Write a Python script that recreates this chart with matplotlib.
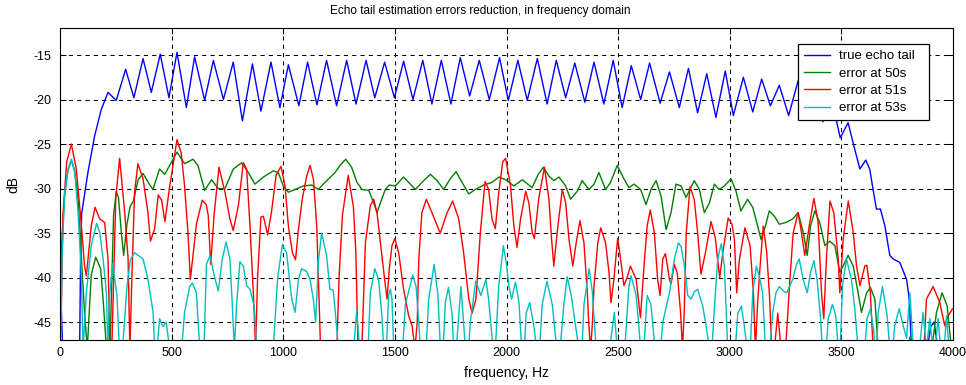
import matplotlib
matplotlib.use("Agg")
import matplotlib.pyplot as plt

plt.rcParams['font.family'] = ['Liberation Sans', 'DejaVu Sans']
plt.rcParams['lines.scale_dashes'] = False

# ---------------- data ----------------
title = "Echo tail estimation errors reduction, in frequency domain"
xlabel = "frequency, Hz"
ylabel = "dB"
labels = ["true echo tail", "error at 50s", "error at 51s", "error at 53s"]
xticks = [0, 500, 1000, 1500, 2000, 2500, 3000, 3500, 4000]
yticks = [-45, -40, -35, -30, -25, -20, -15]

blue_f = [0, 4, 12, 88, 92, 97, 125, 155, 185, 215, 252, 294, 331, 372, 409, 449, 488, 524, 566, 603,
          648, 687, 732, 776, 817, 862, 900, 945, 985, 1023, 1070, 1109, 1151, 1194, 1239, 1284, 1326,
          1371, 1410, 1454, 1498, 1539, 1581, 1625, 1666, 1708, 1751, 1793, 1835, 1878, 1923, 1969,
          2008, 2051, 2093, 2138, 2182, 2223, 2265, 2306, 2351, 2392, 2436, 2478, 2518, 2559, 2601,
          2641, 2688, 2730, 2774, 2815, 2856, 2897, 2938, 2980, 3016, 3061, 3103, 3143, 3182, 3222,
          3264, 3306, 3350, 3385, 3417, 3452, 3495, 3530, 3560, 3583, 3609, 3627, 3642, 3657, 3675,
          3695, 3717, 3732, 3762, 3792, 3804, 3814, 3885, 3900, 3915, 3930, 3950, 4000]
blue_db = [-38.5, -42, -48, -48, -38, -32.8, -28.2, -24.1, -21.1, -19.2, -20.1, -16.6, -19.8, -15.4,
           -19.2, -14.9, -19.8, -14.7, -20.9, -15.2, -20.1, -15.6, -20.0, -15.8, -22.4, -16.0, -21.3,
           -15.8, -20.9, -16.1, -20.7, -15.8, -20.6, -15.6, -20.7, -15.6, -20.5, -15.6, -19.8, -15.8,
           -19.8, -15.7, -20.0, -15.6, -20.5, -15.6, -20.5, -15.3, -19.6, -15.6, -20.0, -15.3, -20.1,
           -15.6, -20.1, -15.4, -20.5, -15.6, -19.8, -15.9, -20.3, -15.8, -20.5, -15.6, -20.9, -16.2,
           -20.0, -15.9, -20.4, -16.9, -20.9, -16.5, -21.5, -17.1, -22.0, -16.8, -21.8, -17.5, -21.4,
           -17.7, -20.7, -18.4, -21.8, -17.9, -21.5, -18.5, -22.5, -19.5, -24.3, -22.6, -25.6, -27.8,
           -26.8, -27.8, -30.1, -32.3, -32.3, -34.2, -37.5, -37.9, -38.3, -40.2, -42.4, -48, -48,
           -45.5, -45.0, -47.5, -48, -48]

green_f = [0, 8, 20, 35, 51, 66, 81, 96, 110, 122, 140, 160, 182, 193, 208, 224, 240, 252, 262, 275,
           285, 300, 314, 329, 350, 372, 395, 416, 446, 469, 491, 524, 558, 596, 618, 648, 679, 709,
           739, 776, 814, 844, 873, 911, 956, 978, 1000, 1023, 1053, 1090, 1127, 1157, 1187, 1232,
           1254, 1280, 1306, 1330, 1353, 1383, 1405, 1420, 1435, 1457, 1475, 1502, 1539, 1562, 1592,
           1621, 1659, 1689, 1719, 1748, 1774, 1801, 1831, 1860, 1898, 1935, 1966, 1996, 2033, 2071,
           2115, 2142, 2165, 2190, 2212, 2235, 2265, 2287, 2317, 2339, 2369, 2392, 2414, 2444, 2466,
           2496, 2526, 2548, 2571, 2601, 2625, 2647, 2670, 2692, 2715, 2737, 2759, 2782, 2804, 2841,
           2864, 2886, 2909, 2931, 2953, 2976, 3006, 3028, 3050, 3080, 3103, 3125, 3140, 3160, 3177,
           3200, 3222, 3252, 3282, 3306, 3329, 3347, 3362, 3381, 3403, 3426, 3448, 3471, 3493, 3508,
           3530, 3553, 3575, 3590, 3613, 3630, 3650, 3665, 3800, 3806, 3815, 3905, 3926, 3951, 3974,
           3993, 4000]
green_db = [-45, -36, -31, -28, -26.8, -28, -31.2, -37.9, -44, -48, -39.7, -37.7, -39, -42.4, -48, -48,
            -33, -30.3, -31, -35, -37.5, -34, -32, -31.4, -29, -28.3, -29.3, -30.1, -27.8, -28.4,
            -27.4, -25.9, -27.2, -26.7, -27.4, -30.2, -29, -30, -30, -27.8, -27.1, -28.2, -29.5, -28.7,
            -28, -28.2, -29.7, -30.4, -30.1, -29.7, -29.6, -30.1, -29.3, -28.2, -27.4, -26.7, -27.6,
            -29.3, -30.1, -30.2, -31.6, -32.7, -31.6, -30.1, -29.6, -29.7, -28.7, -29.3, -30.1, -29.3,
            -28.4, -29.1, -30.1, -28.9, -28.1, -29.3, -30.6, -30.1, -29.6, -29.3, -28.7, -29, -29.7,
            -29, -29.9, -28.4, -27.6, -28.6, -29.1, -28.7, -29.7, -31.2, -30.3, -29.1, -30.1, -29.5,
            -28.2, -30.1, -29.3, -27.4, -28.9, -29.9, -29.5, -30.1, -31.8, -30.1, -29.1, -30.8, -34.6,
            -32.7, -29.5, -29.7, -31, -29.1, -30.1, -32.7, -31.6, -29.5, -30.1, -29.7, -28.9, -30.3,
            -32.5, -31.2, -32.1, -34.2, -35.7, -34.2, -32.5, -33.1, -34, -33.8, -33.4, -32.7, -34.9,
            -37.5, -34.2, -32.5, -33.8, -36.4, -35.9, -36.4, -39.4, -38.7, -37.5, -38.7, -41.7, -43.9,
            -41.7, -41.1, -42.4, -48, -48, -46.7, -48, -48, -43.9, -41.7, -43.2, -48, -48]

red_f = [0, 5, 13, 30, 51, 73, 96, 110, 118, 140, 157, 178, 200, 215, 224, 232, 250, 267, 290, 305,
         313, 322, 334, 349, 372, 394, 405, 424, 440, 455, 470, 490, 524, 543, 558, 573, 584, 611, 637,
         655, 664, 675, 690, 712, 739, 761, 776, 799, 821, 836, 851, 866, 876, 885, 900, 911, 930, 948,
         968, 990, 1008, 1023, 1041, 1055, 1068, 1085, 1105, 1120, 1135, 1150, 1160, 1167, 1240, 1250,
         1265, 1291, 1314, 1325, 1335, 1352, 1368, 1390, 1405, 1420, 1435, 1454, 1465, 1475, 1487,
         1500, 1517, 1539, 1562, 1577, 1590, 1600, 1607, 1621, 1641, 1666, 1703, 1734, 1759, 1786,
         1808, 1831, 1846, 1863, 1883, 1904, 1920, 1935, 1950, 1965, 1983, 1996, 2018, 2033, 2047,
         2063, 2086, 2100, 2115, 2125, 2145, 2170, 2190, 2202, 2212, 2227, 2250, 2265, 2280, 2297,
         2312, 2329, 2347, 2362, 2369, 2377, 2385, 2392, 2409, 2422, 2444, 2459, 2468, 2481, 2498,
         2511, 2526, 2540, 2555, 2581, 2600, 2616, 2630, 2644, 2662, 2677, 2688, 2700, 2712, 2730,
         2737, 2752, 2765, 2780, 2788, 2796, 2805, 2822, 2841, 2856, 2871, 2891, 2916, 2935, 2955,
         2970, 2993, 3010, 3021, 3031, 3043, 3068, 3091, 3106, 3115, 3125, 3136, 3150, 3165, 3178,
         3188, 3200, 3215, 3230, 3250, 3270, 3284, 3306, 3321, 3336, 3356, 3377, 3396, 3411, 3421,
         3433, 3449, 3466, 3486, 3493, 3508, 3531, 3553, 3568, 3583, 3605, 3614, 3630, 3642, 3870,
         3881, 3911, 3941, 3963, 3978, 3998]
red_db = [-47, -45, -33, -27, -25, -27.8, -34.2, -38.7, -39.8, -34.2, -32.1, -33.4, -33.8, -37.9, -48,
          -48, -31, -26.6, -32.7, -37.9, -48, -40, -30.4, -27.2, -28.9, -32.7, -35.9, -34.5, -30.7,
          -31.3, -33.7, -30, -24.5, -26, -29.7, -34.9, -40.2, -34, -31.3, -31.8, -33, -38.5, -33,
          -27.6, -30.4, -33.4, -34.7, -31.9, -27.1, -27.8, -34.2, -41.7, -48, -40, -33.2, -33.1,
          -35.2, -32.5, -28.5, -27.5, -29.7, -34.2, -37.2, -38, -34.6, -31.2, -28.6, -27.4, -28.9,
          -34.2, -42, -48, -48, -40, -33, -28.5, -32, -37, -48, -48, -36.1, -31.9, -31.2, -32.7, -36,
          -40.2, -42.4, -39, -36.4, -35.6, -37.2, -41.3, -44.3, -45.4, -48, -45, -38, -32.7, -31.2,
          -32.7, -35, -32.7, -31.4, -33.4, -37.2, -42.4, -44, -42.4, -34.9, -29.2, -30.1, -33.4,
          -34.5, -30.5, -27, -26.6, -29.7, -34.2, -36.6, -33.4, -30.3, -31.6, -34.9, -35.6, -31,
          -27.6, -31.2, -35.7, -38.7, -34.9, -30.1, -31.6, -35.7, -38.7, -36.1, -33.6, -36.1, -41.7,
          -45.4, -48, -45, -40.9, -36.1, -34.4, -36.1, -39.4, -42.8, -40.2, -35.6, -37.9, -40.9, -40,
          -38.7, -40.2, -44.5, -38.7, -34.2, -32.4, -34.9, -40.2, -42, -37.9, -37.3, -40.2, -40.7,
          -38.5, -39.5, -44, -48, -44, -35, -29.8, -31.2, -34.9, -39.6, -37.2, -33.7, -35.5, -40,
          -37, -33.3, -34, -35.7, -41.7, -38, -34.4, -36.4, -41.7, -48, -42.8, -38.7, -34.2, -37,
          -42, -48, -48, -44, -48, -48, -40, -35, -32.7, -34.9, -37.5, -34.2, -31.1, -33.8, -41.7,
          -44.6, -37.9, -31.4, -32.7, -37.9, -41.7, -35.7, -31.4, -34.9, -38.7, -40.9, -38.7, -38.6,
          -41.7, -48, -48, -42.4, -41, -42.8, -45.4, -44.3, -43.5]

cyan_f = [0, 5, 9, 21, 36, 51, 66, 81, 96, 103, 118, 140, 164, 178, 193, 208, 214, 222, 236, 255, 266,
          280, 300, 315, 334, 372, 394, 417, 424, 435, 446, 461, 476, 491, 545, 558, 581, 593, 611, 626,
          645, 656, 672, 691, 709, 727, 744, 761, 772, 781, 791, 806, 821, 836, 851, 870, 881, 955, 975,
          996, 1015, 1038, 1053, 1068, 1082, 1105, 1120, 1135, 1145, 1158, 1172, 1194, 1209, 1224, 1244,
          1252, 1315, 1329, 1342, 1380, 1390, 1410, 1427, 1442, 1450, 1462, 1472, 1480, 1487, 1495,
          1535, 1547, 1580, 1595, 1607, 1614, 1640, 1651, 1676, 1693, 1704, 1716, 1726, 1740, 1756,
          1763, 1775, 1796, 1816, 1830, 1838, 1862, 1885, 1908, 1920, 1940, 1950, 1965, 1986, 2000,
          2011, 2023, 2040, 2056, 2068, 2080, 2088, 2104, 2123, 2135, 2148, 2160, 2181, 2205, 2225,
          2240, 2257, 2272, 2290, 2324, 2338, 2347, 2370, 2384, 2402, 2462, 2483, 2496, 2530, 2548,
          2558, 2581, 2601, 2615, 2630, 2647, 2665, 2690, 2700, 2730, 2752, 2770, 2782, 2797, 2812,
          2827, 2841, 2856, 2879, 2894, 2909, 2920, 2931, 2946, 2962, 2976, 2991, 3025, 3036, 3052,
          3065, 3078, 3092, 3103, 3119, 3132, 3147, 3160, 3180, 3192, 3207, 3222, 3240, 3255, 3282,
          3299, 3311, 3329, 3347, 3362, 3377, 3391, 3406, 3415, 3432, 3441, 3460, 3475, 3486, 3495,
          3505, 3523, 3545, 3560, 3575, 3605, 3615, 3630, 3645, 3650, 3658, 3665, 3684, 3705, 3717,
          3730, 3739, 3759, 3777, 3792, 3807, 3822, 3850, 3866, 3881, 3896, 3910, 3920, 3933, 3945,
          3960, 3971, 3982, 4000]
cyan_db = [-48, -45, -38, -30.4, -27.8, -26.7, -28.2, -32.7, -39.8, -48, -41.7, -36.4, -33.9, -34.9,
           -37.9, -41.7, -48, -42, -38.4, -42, -48, -48, -41, -38, -37.2, -37.9, -40.2, -43.9, -48,
           -48, -44.6, -45.5, -45, -48, -48, -43.9, -41, -40.6, -41.7, -48, -48, -38.5, -37.5, -39.8,
           -41.5, -37.9, -36, -37.9, -43.2, -48, -43, -38.2, -38.7, -40.9, -41.3, -43.2, -48, -48,
           -40, -36.3, -37.2, -42.4, -43.9, -40.2, -39, -39.3, -40.2, -42.5, -45, -38, -35, -37.5,
           -41.3, -41.4, -46.9, -48, -48, -43.7, -48, -48, -41.7, -39, -40.2, -44.3, -48, -48, -42,
           -41.3, -42.4, -48, -48, -43, -39.7, -41, -45, -48, -48, -42.5, -38.5, -42, -48, -48, -42.8,
           -41.1, -44, -48, -48, -41, -48, -48, -45, -40.4, -42, -40.2, -42.5, -48, -48, -41, -36.4,
           -38.5, -41, -42.4, -40.5, -42.8, -48, -48, -44, -42.8, -45.5, -48, -48, -43, -40.4, -43,
           -48, -48, -43, -39.9, -42, -48, -48, -43, -39, -41.5, -48, -48, -43.9, -48, -48, -41,
           -39.8, -42, -48, -48, -42, -43, -48, -48, -45, -41.7, -37.9, -36.1, -36.5, -38.7, -42,
           -42.4, -41.6, -41.3, -43.2, -45.4, -48, -48, -43.5, -37.9, -36.2, -38.7, -48, -48, -44,
           -43.2, -45.4, -48, -48, -41.7, -38.7, -39.8, -41.7, -48, -48, -44, -41.7, -41, -41.5,
           -41.7, -40.2, -38.5, -37.9, -40.2, -41.7, -39.4, -38.1, -40.2, -44.3, -48, -48, -44.6,
           -43, -44.3, -48, -48, -40.8, -37.9, -40.2, -43.5, -48, -48, -44.6, -43.5, -46, -48, -48,
           -43.9, -41, -44.3, -48, -48, -45.4, -43.5, -45.4, -46.8, -41.7, -48, -48, -43.9, -48,
           -44.6, -48, -48, -44.6, -48, -48, -44.3, -48, -48]

# ---------------- figure ----------------
fig = plt.figure(figsize=(9.66, 3.85), dpi=100)
ax = fig.add_axes([60 / 966, 45 / 385, 893 / 966, 311.7 / 385])

colors = ['#0000FF', '#008000', '#FF0000', '#00BFBF']
series = [(blue_f, blue_db), (green_f, green_db), (red_f, red_db), (cyan_f, cyan_db)]
for (f, d), c, lab in zip(series, colors, labels):
    ax.plot(f, d, color=c, lw=1.0, label=lab)

ax.set_xlim(0, 4000)
ax.set_ylim(-47, -12)
ax.set_xticks(xticks)
ax.set_yticks(yticks)
ax.set_xticklabels([str(t) for t in xticks])
ax.set_yticklabels([str(t) for t in yticks])
ax.tick_params(direction='in', top=True, right=True, length=4, width=0.75,
               labelsize=9, colors='black')
ax.tick_params(axis='x', pad=5)
ax.tick_params(axis='y', pad=6)
ax.grid(True, color='black', linestyle=(0, (3, 3)), linewidth=0.75)
for s in ax.spines.values():
    s.set_linewidth(0.8)
    s.set_color('black')

ax.set_title(title, fontsize=8.5, x=(480 - 60) / 893, y=1.0, pad=10)
ax.set_xlabel(xlabel, fontsize=10)
ax.set_ylabel(ylabel, fontsize=10)
ax.xaxis.set_label_coords(0.5, -0.085)
ax.yaxis.set_label_coords(-0.044, 0.5)

leg = ax.legend(loc='upper left', bbox_to_anchor=(0.8261, 0.5, 0.1466, 0.4486), mode='expand',
                borderaxespad=0, fontsize=9.5, fancybox=False, framealpha=1, edgecolor='black',
                handlelength=2.0, handletextpad=0.7, labelspacing=0.38, borderpad=0.45)
leg.get_frame().set_linewidth(0.9)

fig.savefig('out.png', dpi=100)
